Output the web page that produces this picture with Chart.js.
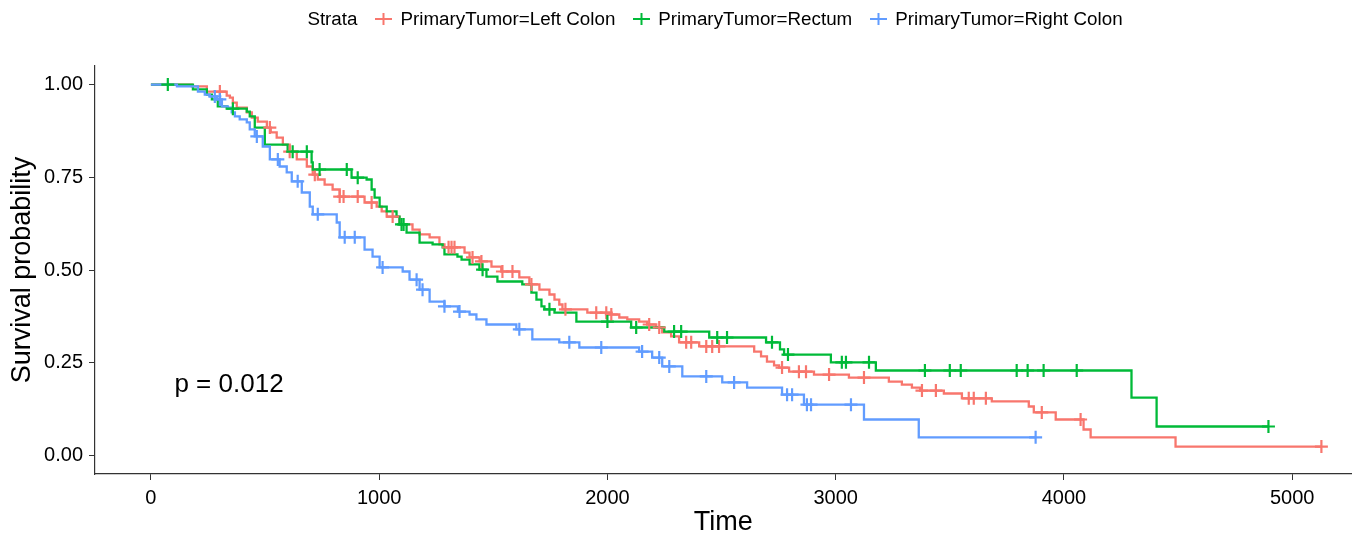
<!DOCTYPE html>
<html>
<head>
<meta charset="utf-8">
<script src="https://cdn.jsdelivr.net/npm/chart.js@4.4.1/dist/chart.umd.min.js"></script>
<style>
html,body{margin:0;padding:0;background:#fff;}
#wrap{position:relative;width:1360px;height:540px;}
#legend{position:absolute;top:6px;left:95px;width:1258px;height:26px;display:flex;justify-content:center;align-items:center;
  font-family:"Liberation Sans",Arial,sans-serif;font-size:18.8px;color:#000;white-space:nowrap;}
#legend .ttl{margin-right:18px;}
#legend .item{display:flex;align-items:center;margin-right:18px;}
#legend svg{margin-right:8px;}
</style>
</head>
<body>
<div id="wrap">
<canvas id="c" width="1360" height="540"></canvas>
<div id="legend"></div>
</div>
<script>
// ---- data ----
const legendTitle = "Strata";
const strataNames = ["PrimaryTumor=Left Colon", "PrimaryTumor=Rectum", "PrimaryTumor=Right Colon"];
const strataColors = ["#F8766D", "#00BA38", "#619CFF"];

const leftTime = [0,179,245,332,346,359,376,420,442,468,508,525,551,578,608,639,683,709,731,761,796,827,936,989,1011,1033,1089,1146,1177,1221,1264,1286,1374,1396,1440,1492,1535,1614,1658,1702,1746,1768,1789,1803,1912,2008,2052,2087,2139,2174,2214,2240,2279,2314,2402,2643,2673,2699,2730,2752,2796,2905,3058,3233,3290,3334,3370,3474,3553,3684,3846,3868,3964,4086,4117,4489,5128];
const leftSurv = [1,0.995,0.981,0.970,0.965,0.951,0.938,0.925,0.911,0.900,0.884,0.871,0.857,0.838,0.819,0.798,0.779,0.757,0.744,0.730,0.717,0.698,0.682,0.671,0.658,0.644,0.623,0.609,0.596,0.588,0.569,0.561,0.547,0.534,0.523,0.509,0.496,0.480,0.461,0.447,0.434,0.420,0.407,0.394,0.385,0.380,0.372,0.367,0.361,0.353,0.345,0.332,0.321,0.305,0.294,0.280,0.267,0.253,0.243,0.237,0.226,0.218,0.210,0.199,0.191,0.183,0.175,0.167,0.154,0.146,0.132,0.116,0.097,0.070,0.049,0.024,0.024];
const leftCensor = [302,521,608,718,827,844,906,967,1059,1304,1317,1330,1409,1448,1540,1584,1667,1816,1951,1995,2017,2183,2227,2345,2367,2433,2459,2489,2765,2839,2870,2971,3124,3378,3439,3583,3605,3658,3903,4073,5128];

const rectumTime = [0,184,245,267,293,332,420,433,455,499,599,704,709,879,945,967,980,1002,1033,1076,1089,1120,1177,1234,1278,1286,1343,1361,1396,1439,1470,1518,1627,1667,1689,1711,1724,1768,1864,2104,2249,2446,2695,2756,2774,2979,3176,4296,4406,4896];
const rectumSurv = [1,0.987,0.973,0.960,0.941,0.935,0.927,0.914,0.884,0.838,0.819,0.790,0.771,0.749,0.744,0.717,0.695,0.671,0.658,0.644,0.623,0.601,0.574,0.569,0.561,0.542,0.536,0.528,0.515,0.501,0.482,0.469,0.461,0.439,0.420,0.402,0.394,0.385,0.361,0.345,0.334,0.318,0.305,0.286,0.272,0.251,0.229,0.156,0.078,0.078];
const rectumCensor = [74,359,621,683,739,858,906,1098,1107,1453,1746,2000,2126,2292,2323,2481,2524,2721,2791,3027,3045,3146,3391,3500,3548,3793,3841,3911,4056,4896];

const rightTime = [0,114,206,236,258,289,311,337,354,368,389,420,433,455,490,521,564,595,617,661,696,709,814,827,936,971,1002,1103,1133,1177,1221,1286,1345,1396,1426,1470,1601,1671,1789,1877,2139,2196,2240,2328,2503,2612,2765,2861,3124,3364,3876];
const rightSurv = [1,0.995,0.981,0.973,0.968,0.960,0.941,0.938,0.925,0.914,0.906,0.898,0.879,0.860,0.833,0.798,0.779,0.763,0.739,0.709,0.671,0.650,0.628,0.588,0.555,0.536,0.507,0.496,0.474,0.447,0.415,0.402,0.388,0.380,0.367,0.353,0.340,0.313,0.305,0.291,0.280,0.264,0.240,0.213,0.197,0.183,0.164,0.137,0.097,0.049,0.049];
const rightCensor = [280,302,464,556,643,731,849,893,1015,1164,1190,1286,1352,1614,1833,1973,2152,2227,2271,2433,2555,2787,2809,2874,2892,3067,3876];

const xTicks = [0,1000,2000,3000,4000,5000];
const yTicks = [0,0.25,0.5,0.75,1];
const pvalText = "p = 0.012";
const pvalPos = [103, 0.2];
const xTitle = "Time";
const yTitle = "Survival probability";

// ---- build ----
const FONT = '"Liberation Sans", Arial, sans-serif';
function survAt(times, survs, t){ let s = survs[0]; for(let i=0;i<times.length;i++){ if(times[i] <= t) s = survs[i]; } return s; }
const curves = [[leftTime,leftSurv,leftCensor],[rectumTime,rectumSurv,rectumCensor],[rightTime,rightSurv,rightCensor]];
const datasets = [];
curves.forEach((c,k)=>{
  datasets.push({
    label: strataNames[k],
    data: c[0].map((t,i)=>({x:t,y:c[1][i]})),
    showLine: true, stepped: 'before', borderColor: strataColors[k], borderWidth: 2.3,
    pointRadius: 0, fill: false, order: 6-k
  });
});
curves.forEach((c,k)=>{
  datasets.push({
    label: strataNames[k] + ' censor',
    data: c[2].map(t=>({x:t,y:survAt(c[0],c[1],t)})),
    showLine: false, pointStyle: 'cross', pointRadius: 6.5, pointBorderWidth: 2.2,
    borderColor: strataColors[k], backgroundColor: strataColors[k], order: 3-k
  });
});

const pvalPlugin = {
  id: 'pval',
  afterDatasetsDraw(chart){
    const {ctx, scales:{x,y}} = chart;
    ctx.save();
    ctx.font = '26px ' + FONT;
    ctx.fillStyle = '#000';
    ctx.textAlign = 'left';
    ctx.textBaseline = 'middle';
    ctx.fillText(pvalText, x.getPixelForValue(pvalPos[0]), y.getPixelForValue(pvalPos[1]) + 4);
    ctx.restore();
  }
};

new Chart(document.getElementById('c'), {
  type: 'scatter',
  data: { datasets },
  plugins: [pvalPlugin],
  options: {
    responsive: false, animation: false, devicePixelRatio: 1,
    layout: { padding: { top: 66, right: 7, left: 0, bottom: 0 } },
    plugins: { legend: { display: false }, tooltip: { enabled: false } },
    scales: {
      x: {
        type: 'linear', min: -245, max: 5259,
        afterBuildTicks: s => { s.ticks = xTicks.map(v=>({value:v})); },
        afterFit: s => { s.height = 66; },
        grid: { display: true, drawOnChartArea: false, drawTicks: true, tickLength: 6, color: '#333', lineWidth: 1 },
        border: { display: true, color: '#333', width: 1.2 },
        ticks: { color: '#000', font: { family: FONT, size: 20 }, padding: 6, maxRotation: 0, callback: v => String(v) },
        title: { display: true, text: xTitle, color: '#000', font: { family: FONT, size: 27 }, padding: { top: 0, bottom: 1 } }
      },
      y: {
        type: 'linear', min: -0.05, max: 1.05,
        afterBuildTicks: s => { s.ticks = yTicks.map(v=>({value:v})); },
        afterFit: s => { s.width = 95; },
        grid: { display: true, drawOnChartArea: false, drawTicks: true, tickLength: 6, color: '#333', lineWidth: 1 },
        border: { display: true, color: '#333', width: 1.2 },
        ticks: { color: '#000', font: { family: FONT, size: 20 }, padding: 6, callback: v => Number(v).toFixed(2) },
        title: { display: true, text: yTitle, color: '#000', font: { family: FONT, size: 27 }, padding: { top: 6, bottom: 0 } }
      }
    }
  }
});

// legend (HTML)
const lg = document.getElementById('legend');
const t0 = document.createElement('span'); t0.className = 'ttl'; t0.textContent = legendTitle; lg.appendChild(t0);
strataNames.forEach((n,k)=>{
  const it = document.createElement('span'); it.className = 'item';
  it.innerHTML = '<svg width="17" height="14"><line x1="0" y1="7" x2="17" y2="7" stroke="'+strataColors[k]+'" stroke-width="2"/><line x1="8.5" y1="1" x2="8.5" y2="13" stroke="'+strataColors[k]+'" stroke-width="2"/></svg>';
  const tx = document.createElement('span'); tx.textContent = n; it.appendChild(tx);
  lg.appendChild(it);
});
</script>
</body>
</html>
